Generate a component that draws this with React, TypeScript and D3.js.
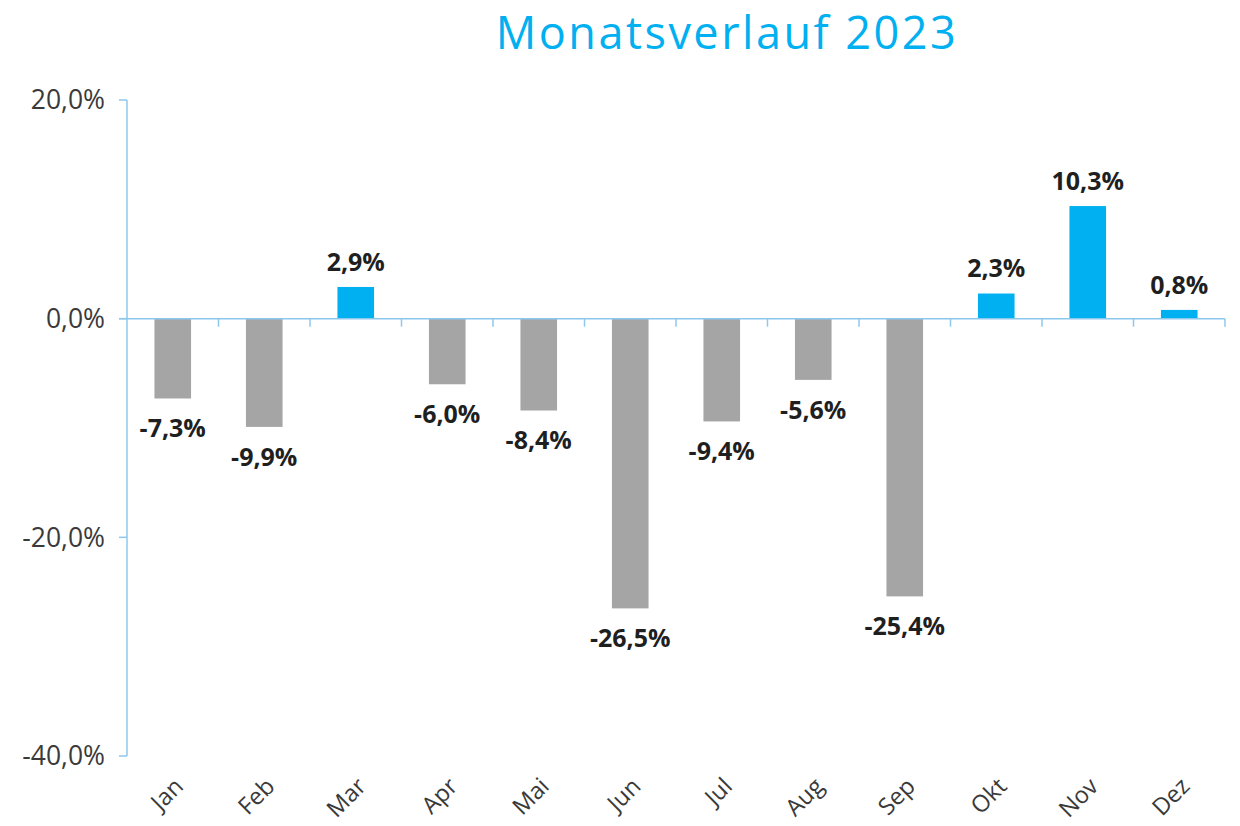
import React from "react";
import * as d3 from "d3";

const months = ["Jan", "Feb", "Mar", "Apr", "Mai", "Jun", "Jul", "Aug", "Sep", "Okt", "Nov", "Dez"];
const values = [-7.3, -9.9, 2.9, -6.0, -8.4, -26.5, -9.4, -5.6, -25.4, 2.3, 10.3, 0.8];
const yTicks = [-40, -20, 0, 20];
const title = "Monatsverlauf 2023";

const W = 1240;
const H = 826;
const M = { left: 127, right: 1225, top: 100, bottom: 756 };

const locale = d3.formatLocale({
  decimal: ",",
  thousands: ".",
  grouping: [3],
  currency: ["", "€"],
  minus: "-",
});
const fmt = locale.format(".1f");
const pct = (v: number) => fmt(v) + "%";

const FONT = "'Open Sans', 'DejaVu Sans', sans-serif";
const AXIS = "#8cc8ee";
const BLUE = "#00b0f0";
const GRAY = "#a5a5a5";

export default function App() {
  const x = d3.scaleBand<string>().domain(months).range([M.left, M.right]).padding(0);
  const y = d3.scaleLinear().domain([-40, 20]).range([M.bottom, M.top]);
  const bw = x.bandwidth() * 0.4;
  const y0 = y(0);

  return (
    <svg
      width={W}
      height={H}
      style={{ position: "absolute", left: 0, top: 0, background: "#fff" }}
      fontFamily={FONT}
    >
      <text
        x={727}
        y={49}
        textAnchor="middle"
        fill={BLUE}
        fontSize={45}
        letterSpacing={2.5}
        fontFamily={FONT}
      >
        {title}
      </text>

      {/* y axis */}
      <line x1={M.left} x2={M.left} y1={y(20)} y2={y(-40)} stroke={AXIS} strokeWidth={1.5} />
      {yTicks.map((t) => (
        <g key={t}>
          <line x1={M.left - 8} x2={M.left} y1={y(t)} y2={y(t)} stroke={AXIS} strokeWidth={1.5} />
          <text
            x={M.left - 22}
            y={y(t)}
            dy="0.35em"
            textAnchor="end"
            fontSize={26.5}
            fill="#3a3a3a"
          >
            {pct(t)}
          </text>
        </g>
      ))}

      {/* bars */}
      {months.map((m, i) => {
        const v = values[i];
        const cx = (x(m) as number) + x.bandwidth() / 2;
        const top = Math.min(y(v), y0);
        const h = Math.abs(y(v) - y0);
        return (
          <rect key={m} x={cx - bw / 2} y={top} width={bw} height={h} fill={v >= 0 ? BLUE : GRAY} />
        );
      })}

      {/* x axis */}
      <line x1={M.left - 8} x2={M.right} y1={y0} y2={y0} stroke={AXIS} strokeWidth={1.5} />
      {months.map((m) => (
        <line
          key={"t" + m}
          x1={(x(m) as number) + x.bandwidth()}
          x2={(x(m) as number) + x.bandwidth()}
          y1={y0}
          y2={y0 + 8}
          stroke={AXIS}
          strokeWidth={1.5}
        />
      ))}

      {/* data labels */}
      {months.map((m, i) => {
        const v = values[i];
        const cx = (x(m) as number) + x.bandwidth() / 2;
        const ly = v >= 0 ? y(v) - 25 : y(v) + 30;
        return (
          <text
            key={"l" + m}
            x={cx}
            y={ly}
            dy="0.35em"
            textAnchor="middle"
            fontSize={25}
            fontWeight={700}
            fill="#1f1f1f"
          >
            {pct(v)}
          </text>
        );
      })}

      {/* x labels */}
      {months.map((m) => {
        const cx = (x(m) as number) + x.bandwidth() / 2;
        return (
          <text
            key={"x" + m}
            transform={`translate(${cx + 6},${y(-40) + 26}) rotate(-45)`}
            textAnchor="end"
            dy="0.35em"
            fontSize={23.5}
            fill="#3a3a3a"
          >
            {m}
          </text>
        );
      })}
    </svg>
  );
}
